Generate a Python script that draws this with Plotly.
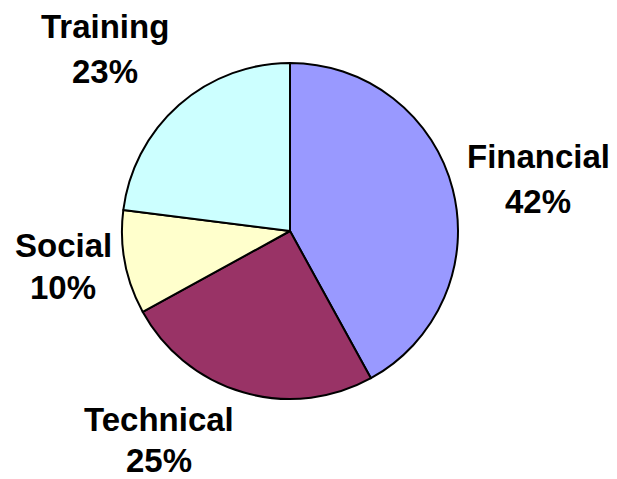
import plotly.graph_objects as go

categories = ["Financial", "Technical", "Social", "Training"]
values = [42, 25, 10, 23]
colors = ["#9999FF", "#993366", "#FFFFCC", "#CCFFFF"]

# page body has an 8px margin: figure drawn at (8, 8) in the window
OFF = 8
W, H = 617 - OFF, 479
# label layout (window-pixel centres of name line and percent line)
label_pos = {
    "Financial": (538, 156, 201),
    "Technical": (159, 419, 460),
    "Social": (63, 245, 287),
    "Training": (105, 26, 71),
}
pie_box = (122, 458, 63, 399)  # left, right, top, bottom in window pixels

fx = lambda px: (px - OFF) / W
fy = lambda py: 1 - (py - OFF) / H

fig = go.Figure()
fig.add_trace(go.Pie(
    labels=categories,
    values=values,
    marker=dict(colors=colors, line=dict(color="black", width=2)),
    sort=False,
    direction="clockwise",
    rotation=0,
    textinfo="none",
    hoverinfo="label+percent",
    showlegend=False,
    domain=dict(x=[fx(pie_box[0]), fx(pie_box[1])], y=[fy(pie_box[3]), fy(pie_box[2])]),
))

total = sum(values)
font = dict(family="Liberation Sans, Arial, sans-serif", size=33, color="black", weight="bold")
for cat, val in zip(categories, values):
    px, py1, py2 = label_pos[cat]
    pct = f"{round(val / total * 100)}%"
    for txt, py in ((cat, py1), (pct, py2)):
        fig.add_annotation(
            text=txt, x=fx(px), y=fy(py), xref="paper", yref="paper",
            xanchor="center", yanchor="middle", showarrow=False, font=font,
        )

fig.update_layout(
    width=W, height=H,
    margin=dict(l=0, r=0, t=0, b=0),
    paper_bgcolor="white", plot_bgcolor="white",
)
fig.write_html("out.html")
